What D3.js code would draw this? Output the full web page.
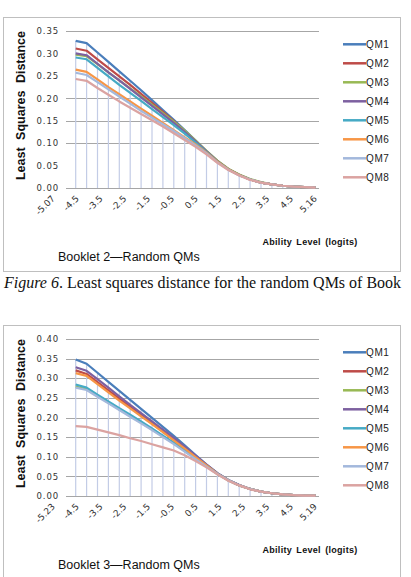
<!DOCTYPE html>
<html>
<head>
<meta charset="utf-8">
<script src="https://cdn.jsdelivr.net/npm/d3@7"></script>
<style>
    body { margin: 0; background: #fff; }
    svg { display: block; }
</style>
</head>
<body>
<script>
// categories (ability level, logits)
const cats2 = ["-5.07", "-5", "-4.5", "-4", "-3.5", "-3", "-2.5", "-2", "-1.5", "-1", "-0.5", "0",
    "0.5", "1", "1.5", "2", "2.5", "3", "3.5", "4", "4.5", "5", "5.16"];
const cats3 = ["-5.23", "-5", "-4.5", "-4", "-3.5", "-3", "-2.5", "-2", "-1.5", "-1", "-0.5", "0",
    "0.5", "1", "1.5", "2", "2.5", "3", "3.5", "4", "4.5", "5", "5.19"];

// tick labels that are printed under the axis
const labels2 = ["-5.07", "-4.5", "-3.5", "-2.5", "-1.5", "-0.5", "0.5", "1.5", "2.5", "3.5", "4.5", "5.16"];
const labels3 = ["-5.23", "-4.5", "-3.5", "-2.5", "-1.5", "-0.5", "0.5", "1.5", "2.5", "3.5", "4.5", "5.19"];

const seriesNames = ["QM1", "QM2", "QM3", "QM4", "QM5", "QM6", "QM7", "QM8"];
const seriesColors = ["#4a7ebb", "#be4b48", "#98b954", "#7d60a0", "#46aac5", "#f79646", "#a3b8dc", "#dba3a1"];

// Booklet 2
const b2QM1 = [0.328, 0.323, 0.302, 0.281, 0.260, 0.239, 0.218, 0.196, 0.174, 0.152, 0.129, 0.106, 0.082, 0.060, 0.042, 0.029, 0.019, 0.012, 0.008, 0.005, 0.003, 0.002, 0.001];
const b2QM2 = [0.311, 0.306, 0.287, 0.268, 0.249, 0.230, 0.210, 0.190, 0.170, 0.149, 0.127, 0.104, 0.081, 0.059, 0.042, 0.029, 0.019, 0.012, 0.008, 0.005, 0.003, 0.002, 0.001];
const b2QM3 = [0.297, 0.294, 0.276, 0.258, 0.240, 0.222, 0.204, 0.186, 0.167, 0.148, 0.128, 0.106, 0.083, 0.061, 0.043, 0.030, 0.020, 0.013, 0.008, 0.005, 0.003, 0.002, 0.001];
const b2QM4 = [0.300, 0.296, 0.277, 0.258, 0.240, 0.221, 0.202, 0.183, 0.164, 0.145, 0.125, 0.104, 0.082, 0.060, 0.042, 0.029, 0.019, 0.012, 0.008, 0.005, 0.003, 0.002, 0.001];
const b2QM5 = [0.291, 0.287, 0.268, 0.249, 0.230, 0.212, 0.194, 0.176, 0.158, 0.140, 0.121, 0.101, 0.080, 0.059, 0.042, 0.029, 0.019, 0.012, 0.008, 0.005, 0.003, 0.002, 0.001];
const b2QM6 = [0.264, 0.259, 0.242, 0.225, 0.209, 0.193, 0.177, 0.161, 0.145, 0.129, 0.113, 0.097, 0.079, 0.059, 0.042, 0.029, 0.019, 0.012, 0.008, 0.005, 0.003, 0.002, 0.001];
const b2QM7 = [0.257, 0.252, 0.236, 0.220, 0.204, 0.188, 0.172, 0.157, 0.142, 0.127, 0.111, 0.095, 0.077, 0.057, 0.041, 0.028, 0.019, 0.012, 0.008, 0.005, 0.003, 0.002, 0.001];
const b2QM8 = [0.243, 0.239, 0.223, 0.208, 0.193, 0.179, 0.165, 0.151, 0.137, 0.122, 0.107, 0.092, 0.075, 0.056, 0.040, 0.028, 0.018, 0.012, 0.008, 0.005, 0.003, 0.002, 0.001];

// Booklet 3
const b3QM1 = [0.348, 0.337, 0.314, 0.291, 0.268, 0.245, 0.222, 0.199, 0.176, 0.153, 0.129, 0.104, 0.080, 0.058, 0.041, 0.028, 0.018, 0.011, 0.007, 0.004, 0.002, 0.001, 0.001];
const b3QM2 = [0.320, 0.311, 0.290, 0.269, 0.248, 0.227, 0.206, 0.185, 0.164, 0.143, 0.122, 0.100, 0.078, 0.057, 0.040, 0.027, 0.018, 0.011, 0.007, 0.004, 0.002, 0.001, 0.001];
const b3QM3 = [0.279, 0.272, 0.255, 0.238, 0.221, 0.204, 0.187, 0.170, 0.152, 0.134, 0.115, 0.096, 0.076, 0.056, 0.040, 0.027, 0.018, 0.011, 0.007, 0.004, 0.002, 0.001, 0.001];
const b3QM4 = [0.328, 0.319, 0.298, 0.276, 0.254, 0.232, 0.211, 0.190, 0.169, 0.148, 0.126, 0.103, 0.080, 0.058, 0.041, 0.028, 0.018, 0.011, 0.007, 0.004, 0.002, 0.001, 0.001];
const b3QM5 = [0.284, 0.276, 0.258, 0.241, 0.224, 0.207, 0.190, 0.172, 0.154, 0.136, 0.117, 0.097, 0.077, 0.057, 0.040, 0.027, 0.018, 0.011, 0.007, 0.004, 0.002, 0.001, 0.001];
const b3QM6 = [0.313, 0.306, 0.285, 0.264, 0.243, 0.223, 0.203, 0.183, 0.163, 0.142, 0.121, 0.099, 0.078, 0.057, 0.040, 0.027, 0.018, 0.011, 0.007, 0.004, 0.002, 0.001, 0.001];
const b3QM7 = [0.276, 0.270, 0.253, 0.236, 0.219, 0.202, 0.185, 0.168, 0.150, 0.132, 0.113, 0.094, 0.075, 0.056, 0.040, 0.027, 0.018, 0.011, 0.007, 0.004, 0.002, 0.001, 0.001];
const b3QM8 = [0.178, 0.176, 0.169, 0.162, 0.155, 0.147, 0.140, 0.132, 0.124, 0.116, 0.104, 0.089, 0.073, 0.055, 0.039, 0.027, 0.017, 0.011, 0.007, 0.004, 0.002, 0.001, 0.001];

const ticks2 = [0, 0.05, 0.10, 0.15, 0.20, 0.25, 0.30, 0.35];
const grid2 = [0.10, 0.15, 0.20, 0.35]; // only these are visible in the scan
const ticks3 = [0, 0.05, 0.10, 0.15, 0.20, 0.25, 0.30, 0.35, 0.40];

let wSvg = 411;
let hSvg = 577;

let svg = d3.select("body").append("svg").attr("width", wSvg).attr("height", hSvg);

function CreateChart(top, cats, labels, series, yMax, ticks, grid, title, caption) {
    let g = svg.append("g").attr("transform", `translate(0,${top})`);

    // outer frame
    g.append("rect")
        .attr("x", 3.5).attr("y", 17.5)
        .attr("width", 397).attr("height", 254)
        .attr("fill", "#fff").attr("stroke", "#bfbfbf");

    let x = d3.scalePoint().domain(cats).range([75.7, 315.5]);
    let y = d3.scaleLinear().domain([0, yMax]).range([188, 31]);
    // the printed labels sit on their own even spacing in the scan
    let xl = d3.scalePoint().domain(labels).range([50, 312]);

    // gridlines
    g.append("g").selectAll("line").data(grid).enter().append("line")
        .attr("x1", 66).attr("x2", 319)
        .attr("y1", (d) => Math.round(y(d)) + 0.5).attr("y2", (d) => Math.round(y(d)) + 0.5)
        .attr("stroke", "#a6a6a6");

    // y axis labels
    let yAxis = d3.axisLeft(y).tickValues(ticks).tickFormat(d3.format(".2f")).tickSize(0).tickPadding(0);
    let ya = g.append("g").attr("transform", "translate(59,0)").call(yAxis);
    ya.select(".domain").remove();
    ya.selectAll("text")
        .attr("font-family", "DejaVu Sans").attr("font-size", 8.5)
        .attr("letter-spacing", 0.9).attr("fill", "#333");

    // drop lines from the highest series to the axis
    let tops = cats.map((c, i) => d3.max(series, (s) => s[i]));
    g.append("g").selectAll("line").data(cats).enter().append("line")
        .attr("x1", (d) => x(d)).attr("x2", (d) => x(d))
        .attr("y1", (d, i) => y(tops[i])).attr("y2", y(0))
        .attr("stroke", "#c3cce6").attr("stroke-width", 1.2);

    // x axis
    g.append("line")
        .attr("x1", 66).attr("x2", 319)
        .attr("y1", y(0) + 0.5).attr("y2", y(0) + 0.5)
        .attr("stroke", "#a6a6a6");

    let xa = g.append("g").attr("transform", `translate(0,${y(0)})`)
        .call(d3.axisBottom(xl).tickSize(0));
    xa.select(".domain").remove();
    xa.selectAll("text")
        .attr("font-family", "DejaVu Sans").attr("font-size", 9)
        .attr("fill", "#333")
        .attr("text-anchor", "end")
        .attr("dy", 0)
        .attr("transform", "translate(3,9) rotate(-45)");

    // series
    let line = d3.line().x((d, i) => x(cats[i])).y((d) => y(d));
    series.forEach((s, k) => {
        g.append("path")
            .attr("d", line(s))
            .attr("fill", "none")
            .attr("stroke", seriesColors[k])
            .attr("stroke-width", 2.2)
            .attr("stroke-linejoin", "round");
    });

    // legend
    let leg = g.append("g").selectAll("g").data(seriesNames).enter().append("g")
        .attr("transform", (d, i) => `translate(343,${44.3 + i * 19})`);
    leg.append("line")
        .attr("x1", 0).attr("x2", 23)
        .attr("stroke", (d, i) => seriesColors[i]).attr("stroke-width", 2.5);
    leg.append("text")
        .attr("x", 23).attr("y", 3.5)
        .attr("font-family", "Liberation Sans").attr("font-size", 10)
        .attr("letter-spacing", 0.6).attr("fill", "#222")
        .text((d) => d);

    // axis titles
    g.append("text")
        .attr("transform", "translate(25,105.5) rotate(-90)")
        .attr("text-anchor", "middle")
        .attr("font-family", "Liberation Sans").attr("font-weight", "bold")
        .attr("font-size", 12.5).attr("word-spacing", 4).attr("fill", "#111")
        .text("Least Squares Distance");

    g.append("text")
        .attr("x", 310).attr("y", 245)
        .attr("text-anchor", "middle")
        .attr("font-family", "Liberation Sans").attr("font-weight", "bold")
        .attr("font-size", 9).attr("letter-spacing", 0.3).attr("word-spacing", 1.5).attr("fill", "#111")
        .text("Ability Level (logits)");

    g.append("text")
        .attr("x", 58).attr("y", 260.5)
        .attr("font-family", "Liberation Sans")
        .attr("font-size", 12.5).attr("fill", "#111")
        .text(title);

    if (caption) {
        // the scan cuts the caption at the right edge after "Book"
        let t = g.append("text")
            .attr("x", 4).attr("y", 288)
            .attr("font-family", "Liberation Serif")
            .attr("font-size", 16).attr("fill", "#111");
        t.append("tspan").attr("font-style", "italic").text("Figure 6");
        t.append("tspan").text(". Least squares distance for the random QMs of Book");
        let w = t.node().getComputedTextLength();
        if (w > 404) t.attr("font-size", 16 * 404 / w);
    }
}

CreateChart(0, cats2, labels2, [b2QM1, b2QM2, b2QM3, b2QM4, b2QM5, b2QM6, b2QM7, b2QM8], 0.35, ticks2, grid2,
    "Booklet 2\u2014Random QMs", true);
CreateChart(308, cats3, labels3, [b3QM1, b3QM2, b3QM3, b3QM4, b3QM5, b3QM6, b3QM7, b3QM8], 0.40, ticks3, ticks3,
    "Booklet 3\u2014Random QMs", false);
</script>
</body>
</html>
